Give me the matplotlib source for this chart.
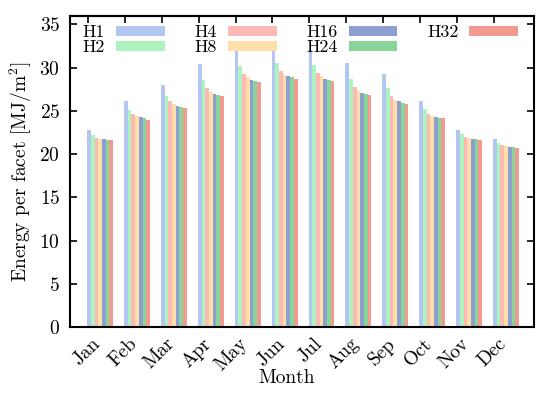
import numpy as np
import matplotlib
matplotlib.use("Agg")
from matplotlib import pyplot as plt

plt.rcParams['font.family'] = 'serif'
plt.rcParams['font.serif'] = ['cmr10']
plt.rcParams['mathtext.fontset'] = 'cm'
plt.rcParams['axes.unicode_minus'] = False
plt.rcParams['axes.formatter.use_mathtext'] = True

months = ["Jan", "Feb", "Mar", "Apr", "May", "Jun",
          "Jul", "Aug", "Sep", "Oct", "Nov", "Dec"]
series = ["H1", "H2", "H4", "H8", "H16", "H24", "H32"]

h1 = [22.75, 26.1, 28.0, 30.4, 32.2, 32.3, 32.0, 30.5, 29.3, 26.2, 22.8, 21.75]
h2 = [22.2, 25.1, 26.7, 28.6, 30.2, 30.5, 30.3, 28.7, 27.6, 25.2, 22.3, 21.3]
h4 = [21.9, 24.7, 26.1, 27.7, 29.3, 29.65, 29.4, 27.75, 26.7, 24.7, 22.0, 21.05]
h8 = [21.8, 24.4, 25.8, 27.2, 28.9, 29.2, 29.0, 27.3, 26.3, 24.45, 21.86, 20.97]
h16 = [21.7, 24.3, 25.6, 27.0, 28.6, 29.0, 28.7, 27.1, 26.1, 24.3, 21.8, 20.85]
h24 = [21.67, 24.2, 25.5, 26.9, 28.5, 28.9, 28.6, 27.0, 25.97, 24.2, 21.75, 20.8]
h32 = [21.6, 24.0, 25.35, 26.75, 28.4, 28.7, 28.45, 26.9, 25.85, 24.15, 21.6, 20.7]

values = [h1, h2, h4, h8, h16, h24, h32]
colors = ['#b3c6f2', '#adf3bf', '#ffb9b4', '#ffdfa8', '#8c9fd0', '#87d598', '#f39a90']

fig = plt.figure(figsize=(5.5, 3.96), dpi=100)
ax = fig.add_axes([0.127, 0.174, 0.844, 0.786])

x = np.arange(len(months))
w = 0.1
for k, (name, vals) in enumerate(zip(series, values)):
    ax.bar(x + k * w - 0.02, vals, width=w, align='edge', color=colors[k], label=name)

ax.set_xlim(-0.49, 12.09)
ax.set_ylim(0, 36)
ax.set_yticks(np.arange(0, 36, 5))
ax.set_xticks(x + 0.43)
ax.set_xticklabels(months, rotation=45, ha='right')
ax.tick_params(axis='x', bottom=False, labelsize=14, pad=2)
ax.tick_params(axis='y', direction='in', left=True, right=True, length=5, width=1.2,
               labelsize=14, pad=7)

top = ax.secondary_xaxis('top')
top.set_xticks(x)
top.tick_params(direction='in', length=5, width=1.2, labeltop=False)

for s in ax.spines.values():
    s.set_linewidth(1.5)
for s in top.spines.values():
    s.set_linewidth(1.5)

ax.set_xlabel("Month", fontsize=14, labelpad=-4)
ax.xaxis.label.set_x(0.468)
ax.set_ylabel(r"Energy per facet [MJ/m$^2$]", fontsize=14, labelpad=4)

leg = ax.legend(loc='upper left', bbox_to_anchor=(0.026, 0.974), ncol=4, fontsize=13,
                markerfirst=False, handlelength=2.7, handleheight=0.45,
                handletextpad=0.6, columnspacing=1.65, labelspacing=0.0,
                borderpad=0.05, borderaxespad=0.0, frameon=False)

plt.savefig("out.png", dpi=100)
plt.close()
